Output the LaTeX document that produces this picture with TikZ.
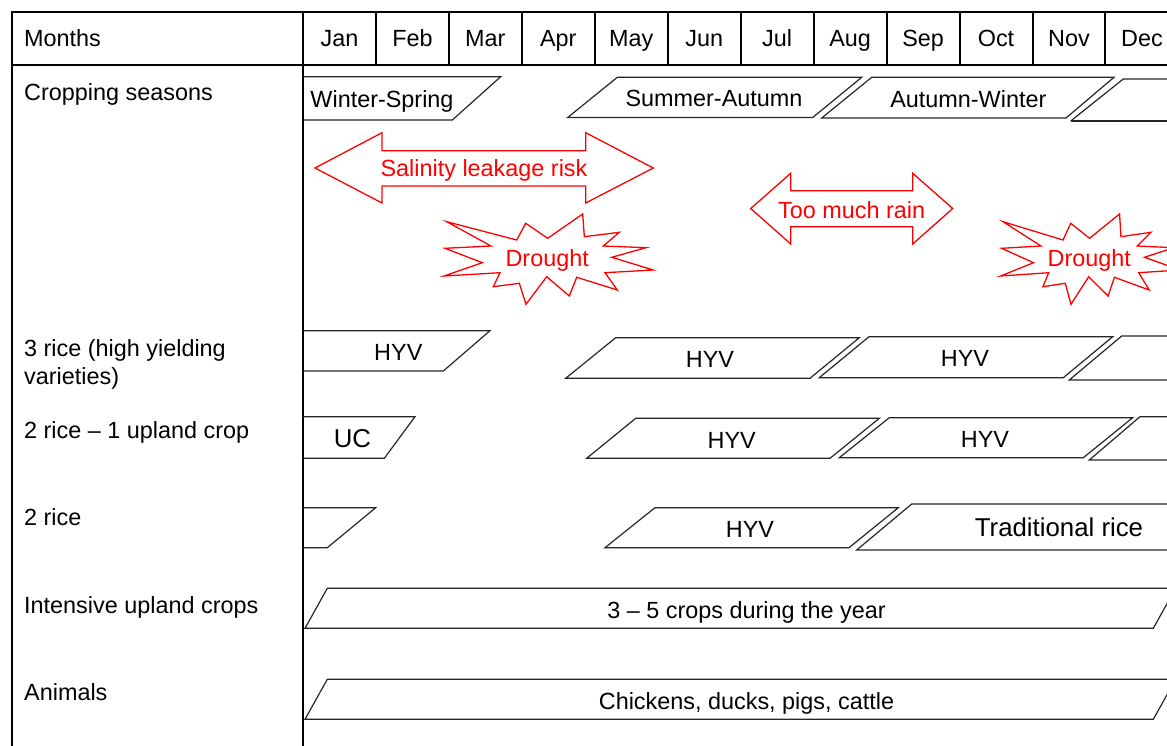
\documentclass[tikz,border=0pt]{standalone}
\usepackage{fontspec}
\setmainfont{Liberation Sans}
\newcommand\myfs{\fontsize{23.4}{28}\selectfont}
\newcommand\mybigfs{\fontsize{25.8}{30}\selectfont}
\newcommand\drawstar[1]{\draw[haz,#1] (446.7,221.7) -- (516.7,240) -- (525.7,223.3) -- (547.7,238.3) -- (582.7,214) -- (584.3,236.7) -- (619.3,232.3) -- (603.3,246) -- (646,247.7) -- (611.7,257.3) -- (653.3,270) -- (605,272.7) -- (617.3,290) -- (576.7,277.3) -- (569.3,296) -- (546.7,276.7) -- (526,304.3) -- (519.3,283.3) -- (493.3,286.7) -- (500,272.7) -- (444,276) -- (482.3,262.7) -- (445,248.3) -- (491,246) -- cycle;}
\begin{document}
\begin{tikzpicture}[x=1pt,y=-1pt,
  tbl/.style={line width=2pt,black},
  box/.style={draw=black!85,line width=1.2pt,line join=miter},
  haz/.style={draw=red,line width=1.3pt,line join=miter},
  lbl/.style={anchor=base west,inner sep=0pt,font=\myfs},
  txt/.style={anchor=base,inner sep=0pt,font=\myfs},
  rtxt/.style={anchor=base,inner sep=0pt,font=\myfs,text=red}]
\useasboundingbox (0,0) rectangle (1167,746);
\begin{scope}
\clip (0,0) rectangle (1167,746);
% table
\draw[tbl] (12,746) -- (12,12) -- (1200,12);
\draw[tbl] (12,65) -- (1200,65);
\draw[tbl] (303,12) -- (303,746);
\foreach \i in {1,...,11} \draw[tbl] ({303+72.95*\i},12) -- ({303+72.95*\i},65);
\foreach \m [count=\i] in {Jan,Feb,Mar,Apr,May,Jun,Jul,Aug,Sep,Oct,Nov,Dec}
  \node[txt] (m\i) at ({303+72.95*(\i-0.5)},46.5) {\m};
% row labels
\node[lbl] (lmonths) at (24,46.5) {Months};
\node[lbl] (lseason) at (24,100.5) {Cropping seasons};
\node[lbl] (lthree) at (24,356.5) {3 rice (high yielding};
\node[lbl] (lthreeb) at (24,384.5) {varieties)};
\node[lbl] (ltwoone) at (24,438.5) {2 rice – 1 upland crop};
\node[lbl] (ltwo) at (24,525.5) {2 rice};
\node[lbl] (lint) at (24,613.5) {Intensive upland crops};
\node[lbl] (lanim) at (24,700.5) {Animals};
% cropping seasons
\draw[box] (303,76.7) -- (500.7,76.7) -- (452.3,120) -- (303,120);
\node[txt] (ws) at (382,107.7) {Winter-Spring};
\draw[box] (567.7,117.5) -- (617.3,77.3) -- (861.7,77.3) -- (812.7,117.5) -- cycle;
\node[txt] (sa) at (714,106.5) {Summer-Autumn};
\draw[box] (821.7,118) -- (871.7,77.3) -- (1114,77.3) -- (1066,118) -- cycle;
\node[txt] (aw) at (968.3,107.3) {Autumn-Winter};
\draw[box] (1070.7,121) -- (1123.3,79) -- (1200,79);
\draw[box] (1070.7,121) -- (1200,121);
% hazards
\draw[haz] (315,168) -- (382,132.7) -- (382,150.7) -- (585.7,150.7) -- (585.7,132.7) -- (653.3,168) -- (585.7,203) -- (585.7,186) -- (382,186) -- (382,203) -- cycle;
\node[rtxt] (sal) at (484,176.7) {Salinity leakage risk};
\draw[haz] (750.7,208.5) -- (790.7,173.3) -- (790.7,190.7) -- (912.7,190.7) -- (912.7,173.3) -- (952.7,208.5) -- (912.7,244) -- (912.7,226.7) -- (790.7,226.7) -- (790.7,244) -- cycle;
\node[rtxt] (rain) at (851.7,218.3) {Too much rain};
\drawstar{}
\node[rtxt] (dr1) at (547.2,266) {Drought};
\begin{scope}[xshift=1000.7pt,xscale=0.857,xshift=-444pt]
\drawstar{}
\end{scope}
\node[rtxt] (dr2) at (1089.3,266) {Drought};
% 3 rice
\draw[box] (303,330.7) -- (490,330.7) -- (443.3,371) -- (303,371);
\node[txt] (h1) at (398.3,360.7) {HYV};
\draw[box] (565.7,378.3) -- (615.7,337.7) -- (859.3,337.7) -- (810,378.3) -- cycle;
\node[txt] (h2) at (710,367.4) {HYV};
\draw[box] (819.3,377.7) -- (869,336.7) -- (1112.7,336.7) -- (1063.3,377.7) -- cycle;
\node[txt] (h3) at (965,366.7) {HYV};
\draw[box] (1200,336) -- (1121.7,336) -- (1069.3,380) -- (1200,380);
% 2 rice - 1 upland
\draw[box] (303,416.7) -- (415,416.7) -- (384.3,458.3) -- (303,458.3);
\node[txt,font=\mybigfs] (uc) at (352.5,447.5) {UC};
\draw[box] (586.7,458.3) -- (635.7,418.3) -- (879.3,418.3) -- (830,458.3) -- cycle;
\node[txt] (h4) at (731.7,448.4) {HYV};
\draw[box] (839.3,457.7) -- (889.3,417.7) -- (1132.7,417.7) -- (1083.3,457.7) -- cycle;
\node[txt] (h5) at (985,447.7) {HYV};
\draw[box] (1200,416.7) -- (1140,416.7) -- (1089.3,460) -- (1200,460);
% 2 rice
\draw[box] (303,507.7) -- (375.7,507.7) -- (327.3,547.7) -- (303,547.7);
\draw[box] (605,547.7) -- (655,507.7) -- (898.3,507.7) -- (849,547.7) -- cycle;
\node[txt] (h6) at (750,537.7) {HYV};
\draw[box] (1200,504) -- (911.7,504) -- (856.7,550) -- (1200,550);
\node[txt,font=\mybigfs] (trad) at (1059,536.7) {Traditional rice};
% intensive upland
\draw[box] (305,628.3) -- (327.3,588.3) -- (1175.6,588.3) -- (1153.3,628.3) -- cycle;
\node[txt] (crops) at (746.5,618.3) {3 – 5 crops during the year};
% animals
\draw[box] (305,719.3) -- (327.3,679.3) -- (1175.6,679.3) -- (1153.3,719.3) -- cycle;
\node[txt] (anim) at (746.5,709.4) {Chickens, ducks, pigs, cattle};
\end{scope}
\end{tikzpicture}
\end{document}
